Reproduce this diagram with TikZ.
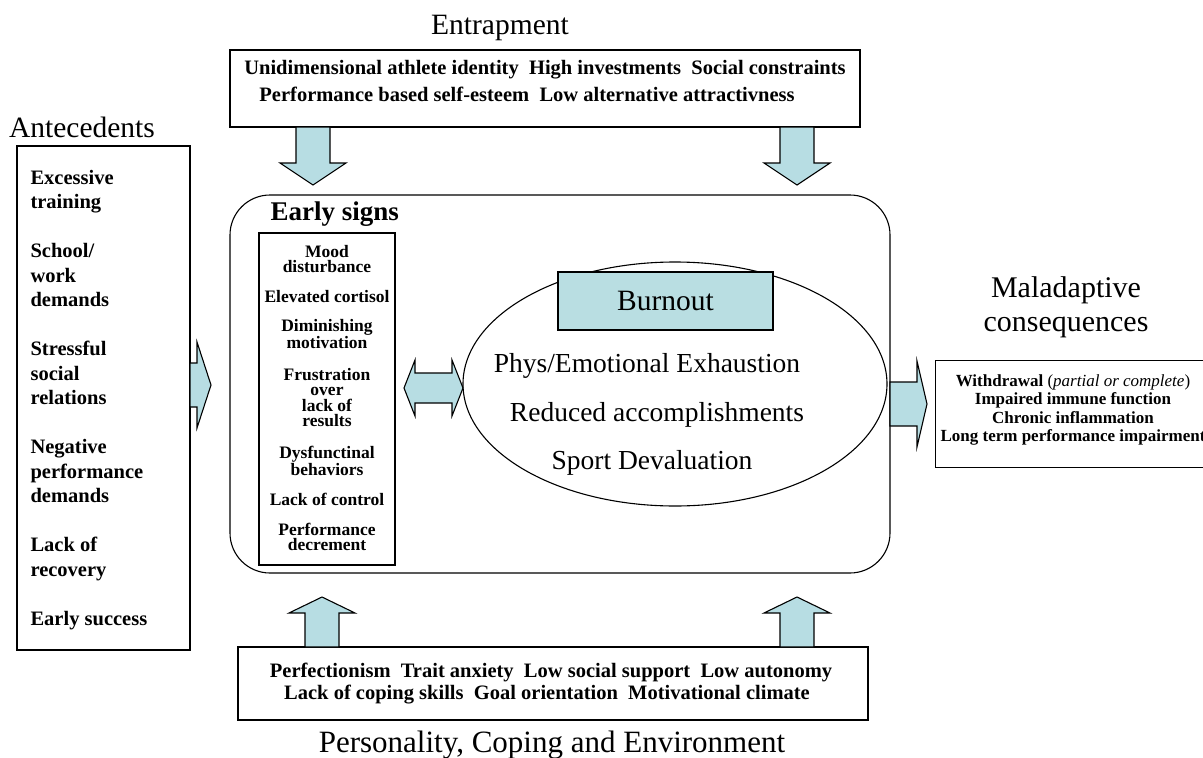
\documentclass[tikz,border=0pt]{standalone}
\usepackage{fontspec}
\setmainfont{Liberation Serif}
\usetikzlibrary{calc,shapes.geometric}
\definecolor{arrowfill}{RGB}{183,221,227}
\definecolor{burnfill}{RGB}{185,222,226}
% vertical block arrow: x, y tail, y head base, y tip, half shaft, half head
\newcommand\varrow[6]{\filldraw[barrow] (#1-#5,#2) -- (#1-#5,#3) -- (#1-#6,#3) -- (#1,#4) -- (#1+#6,#3) -- (#1+#5,#3) -- (#1+#5,#2) -- cycle;}
% horizontal block arrow: y, x tail, x head base, x tip, half shaft, half head
\newcommand\harrow[6]{\filldraw[barrow] (#2,#1-#5) -- (#3,#1-#5) -- (#3,#1-#6) -- (#4,#1) -- (#3,#1+#6) -- (#3,#1+#5) -- (#2,#1+#5) -- cycle;}
\begin{document}
\begin{tikzpicture}[x=1pt,y=-1pt,line width=1.1pt,
  box/.style={draw,rectangle,inner sep=0pt},
  barrow/.style={draw,fill=arrowfill,line width=1.1pt,line join=miter},
  title/.style={font=\fontsize{29.5}{34}\selectfont,inner sep=0pt},
  boldtxt/.style={font=\fontsize{20.5}{24}\selectfont\bfseries,inner sep=0pt},
  bigtxt/.style={font=\fontsize{27.5}{31}\selectfont,inner sep=0pt}]
\useasboundingbox (0,0) rectangle (1203,758);

% ---- Entrapment
\node[title] (enttitle) at (500,28) {Entrapment};
\node[box,minimum width=630pt,minimum height=77pt] (entbox) at (545,88.5) {};
\node[boldtxt] (ent1) at (545,70) {Unidimensional athlete identity~~High investments~~Social constraints};
\node[boldtxt] (ent2) at (527,94) {Performance based self-esteem~~Low alternative attractivness};
\varrow{313}{127}{163}{185}{17}{33}
\varrow{797}{127}{163}{185}{17}{33}

% ---- Antecedents
\node[title] (antitle) at (82,127) {Antecedents};
\node[box,minimum width=173pt,minimum height=504pt] (antbox) at (103.5,398) {};
\node[font=\fontsize{20.5}{24.5}\selectfont\bfseries,inner sep=0pt,align=left,anchor=west] (antlist) at (30,400)
 {Excessive\\training\\[24.5pt]School/\\work\\demands\\[24.5pt]Stressful\\social\\relations\\[24.5pt]Negative\\performance\\demands\\[24.5pt]Lack of\\recovery\\[24.5pt]Early success};
\harrow{385}{190}{197}{211}{22}{43}

% ---- central rounded frame
\node[draw,rectangle,rounded corners=40pt,minimum width=660pt,minimum height=378pt] (frame) at (560,384) {};
\node[font=\fontsize{27}{30}\selectfont\bfseries,inner sep=0pt,anchor=west] (estitle) at (270,214) {Early signs};
\node[box,minimum width=136pt,minimum height=332pt] (esbox) at (327,399) {};
\node[font=\fontsize{17.5}{15.5}\selectfont\bfseries,inner sep=0pt,align=center] (eslist) at (327,398)
 {Mood\\disturbance\\[14pt]Elevated cortisol\\[14pt]Diminishing\\motivation\\[16pt]Frustration\\over\\lack of\\results\\[16pt]Dysfunctinal\\behaviors\\[15pt]Lack of control\\[14pt]Performance\\decrement};

% double arrow
\filldraw[barrow] (404,388) -- (415,360) -- (415,373) -- (452,373) -- (452,360) -- (463,388) -- (452,416) -- (452,403) -- (415,403) -- (415,416) -- cycle;

% ellipse
\node[draw,ellipse,minimum width=424pt,minimum height=244pt,inner sep=0pt] (burnell) at (675,384) {};
\node[draw,fill=burnfill,rectangle,minimum width=215pt,minimum height=58pt,inner sep=0pt,font=\fontsize{29.5}{32}\selectfont] (burnout) at (665.5,301) {Burnout};
\node[bigtxt] (b1) at (647,366) {Phys/Emotional Exhaustion};
\node[bigtxt] (b2) at (657,415) {Reduced accomplishments};
\node[bigtxt] (b3) at (652,463) {Sport Devaluation};

% ---- Maladaptive
\harrow{404}{890}{917}{927}{22}{43}
\node[title,font=\fontsize{30}{34}\selectfont] (maltitle1) at (1066,290) {Maladaptive};
\node[title,font=\fontsize{30}{34}\selectfont] (maltitle2) at (1066,327) {consequences};
\node[box,minimum width=290pt,minimum height=107pt,anchor=north west] (malbox) at (935,360) {};
\node[font=\fontsize{17}{18.5}\selectfont\bfseries,inner sep=0pt,align=center,anchor=north west] (mallist) at (940,374)
 {Withdrawal \mdseries(\textit{partial or complete})\\Impaired immune function\\Chronic inflammation\\Long term performance impairment};

% ---- Personality
\node[box,minimum width=630pt,minimum height=73pt] (perbox) at (553,683.5) {};
\node[boldtxt] (per1) at (551,672) {Perfectionism~~Trait anxiety~~Low social support~~Low autonomy};
\node[boldtxt] (per2) at (547,695) {Lack of coping skills~~Goal orientation~~Motivational climate};
\varrow{322}{647}{613}{597}{17}{33}
\varrow{797}{647}{613}{597}{17}{33}
\node[title,font=\fontsize{31}{34}\selectfont] (pertitle) at (552,745) {Personality, Coping and Environment};
\end{tikzpicture}
\end{document}
